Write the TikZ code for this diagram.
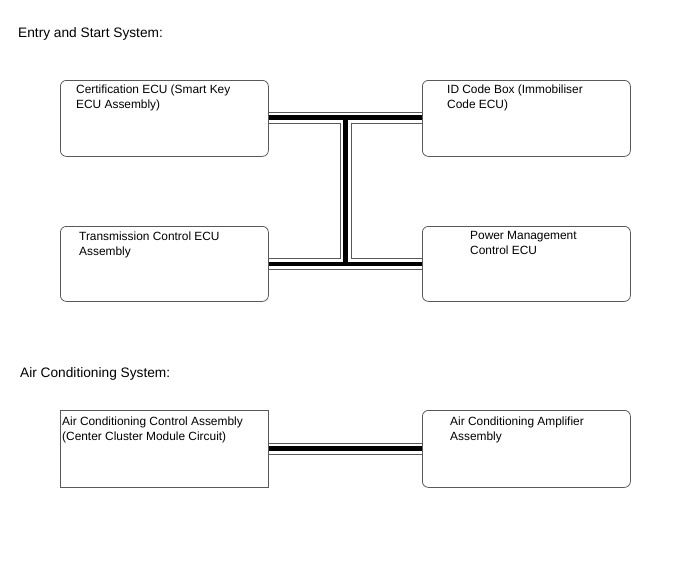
\documentclass[tikz,border=0pt]{standalone}
\usepackage{fontspec}
\setmainfont{Liberation Sans}
\begin{document}
\begin{tikzpicture}[x=1pt,y=-1pt,
  ecubox/.style={draw=black!65,line width=0.8pt,rounded corners=6pt,inner sep=0pt,anchor=north west},
  sqbox/.style={draw=black!65,line width=0.8pt,inner sep=0pt,anchor=north west},
  boxtext/.style={anchor=north west,inner sep=0pt,align=left,font=\fontsize{11.9}{15}\selectfont},
  heading/.style={anchor=west,inner sep=0pt,font=\fontsize{13.7}{16}\selectfont},
  busouter/.style={draw=black!65,line width=12pt},
  businner/.style={draw=white,line width=10pt},
  buscore/.style={draw=black,line width=4.5pt}]
\useasboundingbox (0,0) rectangle (688,560);
\node[heading] (h1) at (18,34) {Entry and Start System:};
\node[heading] (h2) at (20,374) {Air Conditioning System:};
% boxes
\node[ecubox,minimum width=208pt,minimum height=76pt] (cert) at (60,80) {};
\node[ecubox,minimum width=208pt,minimum height=76pt] (idb) at (422,80) {};
\node[ecubox,minimum width=208pt,minimum height=75pt] (tcu) at (60,226) {};
\node[ecubox,minimum width=208pt,minimum height=75pt] (pmc) at (422,226) {};
\node[sqbox,minimum width=208pt,minimum height=77pt] (acc) at (60,410) {};
\node[ecubox,minimum width=208pt,minimum height=77pt] (aca) at (422,410) {};
% texts
\node[boxtext] (tcert) at (76,85) {Certification ECU (Smart Key\\ECU Assembly)};
\node[boxtext] (tidb) at (447,85) {ID Code Box (Immobiliser\\Code ECU)};
\node[boxtext] (ttcu) at (79,231.5) {Transmission Control ECU\\Assembly};
\node[boxtext] (tpmc) at (470,231.5) {Power Management\\Control ECU};
\node[boxtext] (tacc) at (62,416.5) {Air Conditioning Control Assembly\\(Center Cluster Module Circuit)};
\node[boxtext] (taca) at (450,416.5) {Air Conditioning Amplifier\\Assembly};
% bus coordinates
\coordinate (jt) at (345.5,117.5);
\coordinate (jb) at (345.5,264);
\foreach \s in {busouter,businner,buscore}{
  \path[\s] (cert.east |- jt) -- (idb.west |- jt);
  \path[\s] (tcu.east |- jb) -- (pmc.west |- jb);
  \path[\s] (jt) -- (jb);
  \path[\s] (acc.east |- 0,448.5) -- (aca.west |- 0,448.5);
}
\end{tikzpicture}
\end{document}
